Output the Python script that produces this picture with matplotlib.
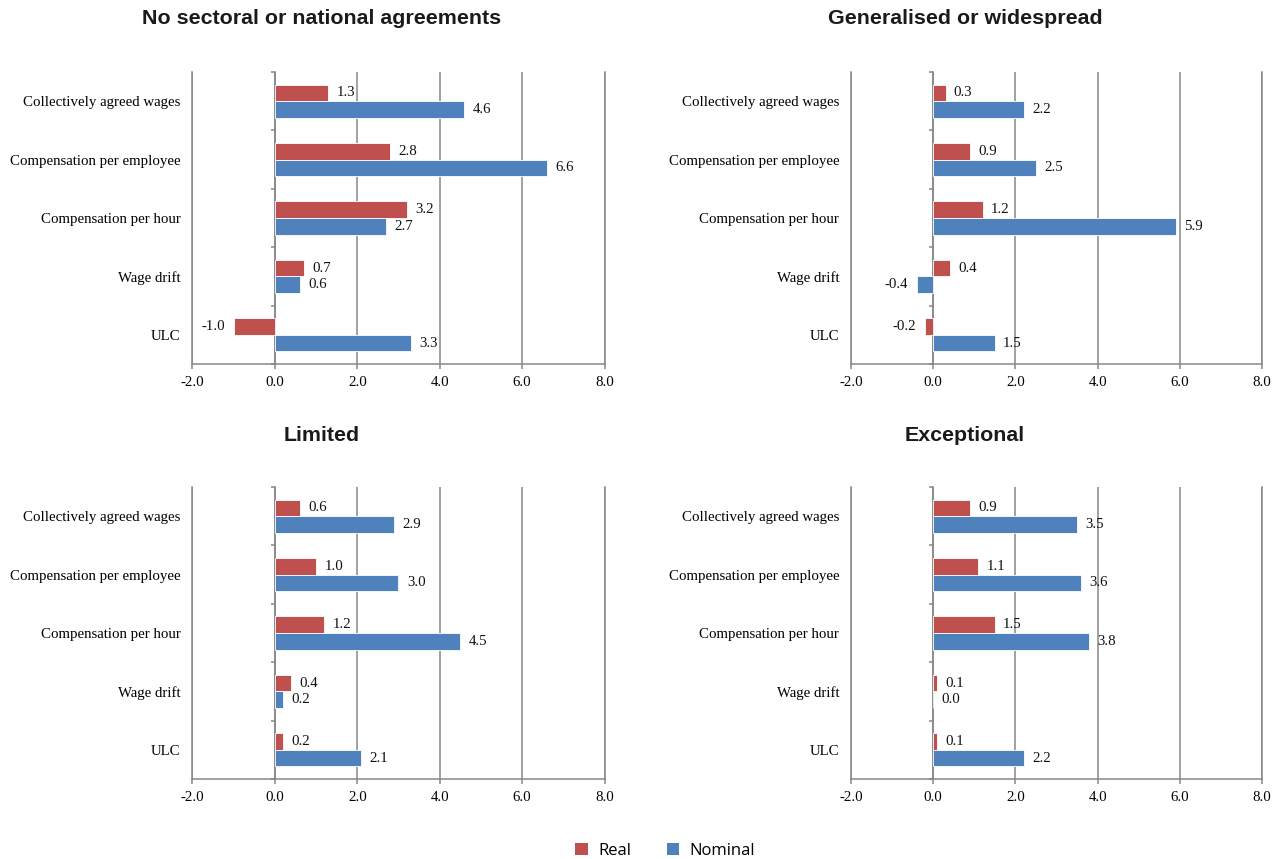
import matplotlib
matplotlib.use("Agg")
import matplotlib.pyplot as plt
from matplotlib.patches import Patch
import numpy as np

categories = ["Collectively agreed wages", "Compensation per employee",
              "Compensation per hour", "Wage drift", "ULC"]
panel_titles = ["No sectoral or national agreements", "Generalised or widespread",
                "Limited", "Exceptional"]

real_none = [1.3, 2.8, 3.2, 0.7, -1.0]
nominal_none = [4.6, 6.6, 2.7, 0.6, 3.3]
real_general = [0.3, 0.9, 1.2, 0.4, -0.2]
nominal_general = [2.2, 2.5, 5.9, -0.4, 1.5]
real_limited = [0.6, 1.0, 1.2, 0.4, 0.2]
nominal_limited = [2.9, 3.0, 4.5, 0.2, 2.1]
real_exceptional = [0.9, 1.1, 1.5, 0.1, 0.1]
nominal_exceptional = [3.5, 3.6, 3.8, 0.0, 2.2]

x_ticks = [-2.0, 0.0, 2.0, 4.0, 6.0, 8.0]

RED = "#C0504D"
BLUE = "#4F81BD"
GRID = "#878787"
SERIF = "Liberation Serif"
FS = 10.7

fig = plt.figure(figsize=(12.84, 8.59), dpi=100)

panel_rects = [
    [0.1499, 0.5763, 0.3209, 0.3399],
    [0.6628, 0.5763, 0.3200, 0.3399],
    [0.1499, 0.0931, 0.3209, 0.3399],
    [0.6628, 0.0931, 0.3200, 0.3399],
]
title_pos = [(0.2508, 0.978), (0.7516, 0.978), (0.2508, 0.4926), (0.7516, 0.4926)]
series = [(real_none, nominal_none), (real_general, nominal_general),
          (real_limited, nominal_limited), (real_exceptional, nominal_exceptional)]

bar_h = 0.285
pos = np.arange(len(categories))


def label_bars(ax, bars, values):
    for b, v in zip(bars, values):
        y = b.get_y() + b.get_height() / 2
        if v < 0:
            ax.annotate(f"{v:.1f}", xy=(v, y), xytext=(-6.5, 0),
                        textcoords="offset points", ha="right", va="center",
                        fontsize=FS, family=SERIF, color="#111111")
        else:
            ax.annotate(f"{v:.1f}", xy=(v, y), xytext=(6, 0),
                        textcoords="offset points", ha="left", va="center",
                        fontsize=FS, family=SERIF, color="#111111")


for rect, (tx, ty), title, (real, nominal) in zip(panel_rects, title_pos,
                                                   panel_titles, series):
    ax = fig.add_axes(rect)
    rb = ax.barh(pos - bar_h / 2, real, height=bar_h, color=RED,
                 edgecolor="white", linewidth=0.6, zorder=3)
    nb = ax.barh(pos + bar_h / 2, nominal, height=bar_h, color=BLUE,
                 edgecolor="white", linewidth=0.6, zorder=3)
    label_bars(ax, rb, real)
    label_bars(ax, nb, nominal)

    ax.set_xlim(-2, 8)
    ax.set_ylim(len(categories) - 0.5, -0.5)
    ax.set_xticks(x_ticks)
    ax.set_xticklabels([f"{t:.1f}" for t in x_ticks], family=SERIF, fontsize=FS)
    ax.set_yticks(pos)
    ax.set_yticklabels(categories, family=SERIF, fontsize=FS)
    ax.tick_params(axis="y", length=0, pad=8.5)
    ax.tick_params(axis="x", length=3.5, width=1.1, color=GRID, pad=5)

    ax.grid(axis="x", color=GRID, linewidth=1.1, zorder=1)
    ax.spines["top"].set_visible(False)
    for s in ["left", "bottom", "right"]:
        ax.spines[s].set_color(GRID)
        ax.spines[s].set_linewidth(1.1)

    # category axis running along x = 0 with divider ticks
    zero_ax = ax.secondary_yaxis(0, transform=ax.transData)
    zero_ax.set_yticks(np.arange(-0.5, len(categories), 1.0))
    zero_ax.set_yticklabels([])
    zero_ax.tick_params(axis="y", length=3, width=1.1, color=GRID, direction="out")
    zero_ax.spines["left"].set_color(GRID)
    zero_ax.spines["left"].set_linewidth(1.1)

    fig.text(tx, ty, title, ha="center", va="center", fontsize=15.4,
             fontweight="bold", family="Liberation Sans", color="#1a1a1a")

handles = [Patch(facecolor=RED, edgecolor="none", label="Real"),
           Patch(facecolor=BLUE, edgecolor="none", label="Nominal")]
fig.legend(handles=handles, loc="center", bbox_to_anchor=(0.518, 0.0095),
           ncol=2, frameon=False, handlelength=0.75, handleheight=0.75,
           handletextpad=0.6, columnspacing=2.15,
           prop={"family": "Open Sans", "size": 12})

fig.savefig("out.png", dpi=100)
